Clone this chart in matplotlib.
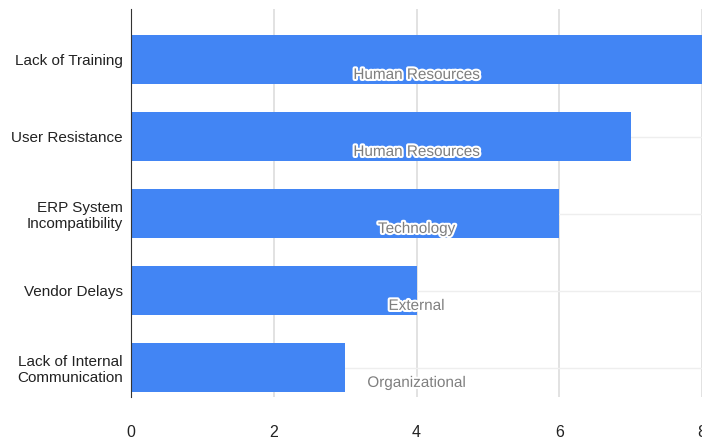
import matplotlib
matplotlib.use("Agg")
import matplotlib.pyplot as plt
import matplotlib.patheffects as pe

# chart data
causes = ["Lack of Training", "User Resistance", "ERP System\nIncompatibility",
          "Vendor Delays", "Lack of Internal\nCommunication"]
counts = [8, 7, 6, 4, 3]
groups = ["Human Resources", "Human Resources", "Technology",
          "External", "Organizational"]
xticks = [0, 2, 4, 6, 8]

plt.rcParams['font.family'] = ['Liberation Sans', 'DejaVu Sans']

fig = plt.figure(figsize=(7.02, 4.41), dpi=100)
ax = fig.add_axes([131/702, 1 - 397/441, 571/702, 388/441])

ypos = list(range(len(causes)))
ax.barh(ypos, counts, height=0.63, color='#4285F4', zorder=3)

# faint row lines behind the bars
for y in ypos:
    ax.axhline(y, color='#eeeeee', lw=1, zorder=1)

# group annotation, placed mid-axis just below bar centre
for y, g in zip(ypos, groups):
    ax.text(4, y + 0.2, g, ha='center', va='center', fontsize=11,
            color='#7f7f7f', zorder=5,
            path_effects=[pe.withStroke(linewidth=3, foreground='white')])

ax.set_xlim(0, 8)
ax.set_ylim(4.383, -0.656)
ax.set_xticks(xticks)
ax.set_xticklabels([str(t) for t in xticks])
ax.set_yticks(ypos)
ax.set_yticklabels(causes, fontsize=11, color='#222222', linespacing=1.2)
ax.tick_params(axis='both', length=0)
ax.tick_params(axis='x', labelsize=11.5, labelcolor='#222222', pad=20)
ax.tick_params(axis='y', pad=6)
ax.grid(axis='x', color='#dddddd', lw=1.2, zorder=0)
ax.set_axisbelow(True)
for s in ['top', 'right', 'bottom']:
    ax.spines[s].set_visible(False)
ax.spines['left'].set_color('#333333')
ax.spines['left'].set_zorder(4)

fig.savefig("out.png", dpi=100)
